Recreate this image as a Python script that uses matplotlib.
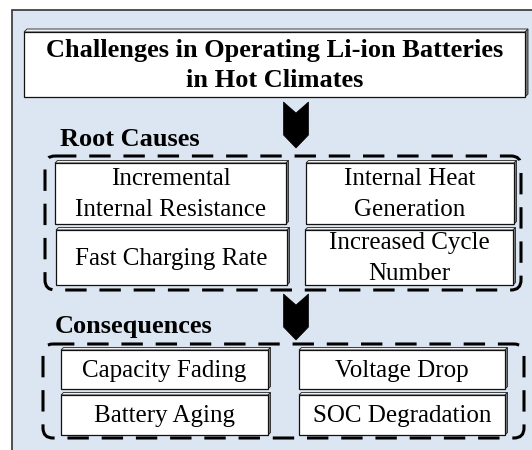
import matplotlib.pyplot as plt
from matplotlib.patches import Rectangle, Polygon, FancyBboxPatch

title = "Challenges in Operating Li-ion Batteries\nin Hot Climates"
section_titles = ["Root Causes", "Consequences"]
causes = ["Incremental\nInternal Resistance", "Internal Heat\nGeneration",
          "Fast Charging Rate", "Increased Cycle\nNumber"]
consequences = ["Capacity Fading", "Voltage Drop",
                "Battery Aging", "SOC Degradation"]

# box geometry in pixels (x0, y0, x1, y1), y measured from the top
cause_boxes = [(55, 163, 286, 224), (306, 163, 514, 224),
               (56, 230, 287, 285), (305, 230, 513, 285)]
cons_boxes = [(61, 350, 268, 389), (299, 350, 505, 389),
              (61, 395, 268, 435), (299, 395, 505, 435)]

plt.rcParams['font.family'] = ['Liberation Serif', 'DejaVu Serif']

fig = plt.figure(figsize=(5.32, 4.5), dpi=100)
ax = fig.add_axes([0, 0, 1, 1])
ax.set_xlim(0, 532)
ax.set_ylim(450, 0)
ax.axis('off')

# background panel
ax.add_patch(Rectangle((12, 10), 540, 460, facecolor='#dce6f2',
                       edgecolor='#333333', lw=1.2, zorder=0))


def bevel_box(x0, y0, x1, y1, text, d=3, ls=1.12, **kw):
    # top and right faces for a slight 3D look
    ax.add_patch(Polygon([(x0, y0), (x0 + d, y0 - d), (x1 + d, y0 - d), (x1, y0)],
                         closed=True, facecolor='#f2f2f2', edgecolor='#222222',
                         lw=0.6, zorder=2))
    ax.add_patch(Polygon([(x1, y0), (x1 + d, y0 - d), (x1 + d, y1 - d), (x1, y1)],
                         closed=True, facecolor='#808080', edgecolor='#222222',
                         lw=0.6, zorder=2))
    ax.add_patch(Rectangle((x0, y0), x1 - x0, y1 - y0, facecolor='white',
                           edgecolor='#111111', lw=0.9, zorder=3))
    ax.text((x0 + x1) / 2, (y0 + y1) / 2 + 1, text, ha='center', va='center',
            zorder=4, linespacing=ls, **kw)


def chevron(xc, ytop, w=25, h=46, notch=11, tip=13):
    l, r = xc - w / 2, xc + w / 2
    pts = [(l, ytop), (xc, ytop + notch), (r, ytop), (r, ytop + h - tip),
           (xc, ytop + h), (l, ytop + h - tip)]
    ax.add_patch(Polygon(pts, closed=True, facecolor='black',
                         edgecolor='black', lw=0.5, zorder=5))


def dashed_group(x0, y0, x1, y1):
    p = FancyBboxPatch((x0, y0), x1 - x0, y1 - y0,
                       boxstyle="round,pad=0,rounding_size=10",
                       facecolor='none', edgecolor='black', lw=2.2,
                       linestyle=(0, (7, 4.2)), zorder=1)
    ax.add_patch(p)


bevel_box(24, 32, 525, 97, title, ls=1.4, fontsize=19, fontweight='bold')

chevron(296, 102)
ax.text(60, 140, section_titles[0], fontsize=19, fontweight='bold',
        ha='left', va='center')
dashed_group(45, 156, 521, 290)
for (x0, y0, x1, y1), t in zip(cause_boxes, causes):
    bevel_box(x0, y0, x1, y1, t, d=2.5, ls=1.48, fontsize=18)

chevron(296, 294)
ax.text(55, 327, section_titles[1], fontsize=19, fontweight='bold',
        ha='left', va='center')
dashed_group(43, 344, 524, 438)
for (x0, y0, x1, y1), t in zip(cons_boxes, consequences):
    bevel_box(x0, y0, x1, y1, t, d=2.5, fontsize=18)

fig.savefig('out.png', dpi=100)
